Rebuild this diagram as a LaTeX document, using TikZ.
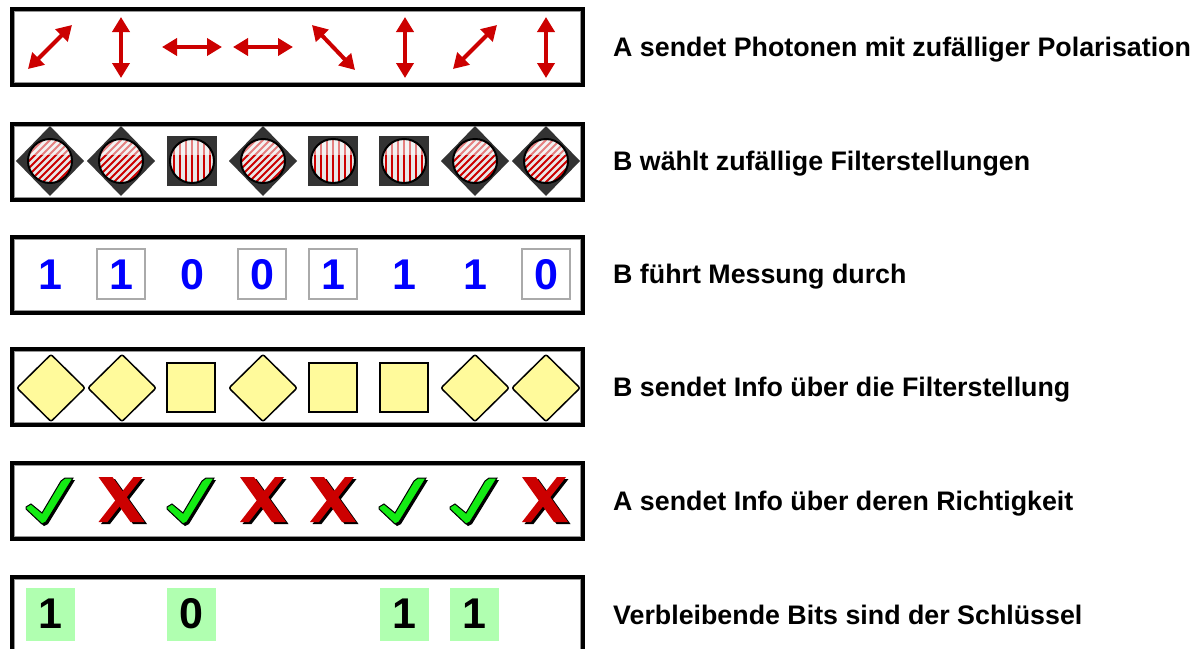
\documentclass[tikz,border=0pt]{standalone}
\usepackage{fontspec}
\setmainfont{Liberation Sans}
\usetikzlibrary{arrows.meta}

\definecolor{polred}{RGB}{204,0,0}
\definecolor{filterdark}{RGB}{51,51,51}
\definecolor{discgray}{RGB}{232,232,232}
\definecolor{bitblue}{RGB}{0,0,255}
\definecolor{infoyellow}{RGB}{255,250,155}
\definecolor{okgreen}{RGB}{20,235,20}
\definecolor{keygreen}{RGB}{176,255,176}
\definecolor{framegray}{RGB}{150,150,150}
\definecolor{cellgray}{RGB}{170,170,170}

\tikzset{
  rowframe/.style={draw=black, line width=4pt},
  rowinner/.style={draw=framegray, line width=1.2pt},
  polarrow/.style={polred, line width=4pt,
    {Triangle[width=17pt,length=15pt]}-{Triangle[width=17pt,length=15pt]}},
  steplabel/.style={anchor=base west, inner sep=0pt,
    font=\bfseries\fontsize{26.8}{30}\selectfont},
  bitdigit/.style={anchor=base, inner sep=0pt,
    font=\bfseries\fontsize{43}{45}\selectfont},
  cellbox/.style={draw=cellgray, line width=1.5pt},
  keycell/.style={fill=keygreen},
  hatchline/.style={polred, line width=2pt},
  discrim/.style={draw=black, line width=2pt},
  % dark filter mounts
  pics/filterdiamond/.style={code={
    \fill[filterdark] (0,-35) -- (34,0) -- (0,35) -- (-34,0) -- cycle;
    \begin{scope}
      \clip (0,0) circle[radius=22];
      \fill[discgray] (-23,-23) rectangle (23,23);
      \foreach \k in {-8,...,8}
        \draw[hatchline] ({7*\k-30},30) -- ({7*\k+30},-30);
      \fill[white,opacity=.5] (-23,-23) rectangle (23,-6);
    \end{scope}
    \draw[discrim] (0,0) circle[radius=22];
  }},
  pics/filtersquare/.style={code={
    \fill[filterdark] (-25,-25) rectangle (25,25);
    \begin{scope}
      \clip (0,0) circle[radius=22];
      \fill[discgray] (-23,-23) rectangle (23,23);
      \foreach \k in {-4,...,4}
        \draw[hatchline] ({6*\k},-23) -- ({6*\k},23);
      \fill[white,opacity=.5] (-23,-23) rectangle (23,-6);
    \end{scope}
    \draw[discrim] (0,0) circle[radius=22];
  }},
  % yellow info tiles
  pics/infodiamond/.style={code={
    \filldraw[fill=infoyellow, draw=black, line width=1.5pt, rounded corners=2pt]
      (0,-33.5) -- (34,0) -- (0,33.5) -- (-34,0) -- cycle;
  }},
  pics/infosquare/.style={code={
    \filldraw[fill=infoyellow, draw=black, line width=1.5pt]
      (-24,-24.5) rectangle (24,24.5);
  }},
  % green tick
  pics/checkmark/.style={code={
    \begin{scope}[shift={(2,2)}]
      \fill[black] (-24,6) -- (-19,3) -- (-8,12) -- (11,-20) -- (15,-23) -- (23,-23)
        -- (-4,21) -- (-8,23) -- (-24,8) -- cycle;
    \end{scope}
    \filldraw[fill=okgreen, draw=black, line width=1pt]
      (-24,6) -- (-19,3) -- (-8,12) -- (11,-20) -- (15,-23) -- (23,-23)
        -- (-4,21) -- (-8,23) -- (-24,8) -- cycle;
  }},
  % red cross
  pics/crossmark/.style={code={
    \begin{scope}[shift={(2.5,2)}]
      \fill[black] (-23,-23) -- (-9,-23) -- (23,22) -- (9,22) -- cycle;
      \fill[black] (12,-23) -- (21,-23) -- (-14,22) -- (-23,22) -- cycle;
    \end{scope}
    \fill[polred] (-23,-23) -- (-9,-23) -- (23,22) -- (9,22) -- cycle;
    \fill[polred] (12,-23) -- (21,-23) -- (-14,22) -- (-23,22) -- cycle;
  }},
}

\begin{document}
\begin{tikzpicture}[x=1pt,y=-1pt]
  \clip (0,0) rectangle (1196,648);
  \fill[white] (0,0) rectangle (1196,648);

  % frames of the six rows
  \foreach \t in {7,122,235,347,461,575} {
    \draw[rowframe] (12,\t+2) rectangle (583,\t+78);
    \draw[rowinner] (14.6,\t+4.6) rectangle (580.4,\t+75.4);
  }

  % row 1: polarisation of the photons
  \draw[polarrow] (28,69) -- (72,25);
  \draw[polarrow] (121,17) -- (121,78);
  \draw[polarrow] (162,47) -- (222,47);
  \draw[polarrow] (233,47) -- (293,47);
  \draw[polarrow] (312,25) -- (355,70);
  \draw[polarrow] (405,17) -- (405,78);
  \draw[polarrow] (453,69) -- (497,25);
  \draw[polarrow] (546,17) -- (546,78);

  % row 2: filter settings
  \pic at (50,161) {filterdiamond};
  \pic at (121,161) {filterdiamond};
  \pic at (192,161) {filtersquare};
  \pic at (263,161) {filterdiamond};
  \pic at (333,161) {filtersquare};
  \pic at (404,161) {filtersquare};
  \pic at (475,161) {filterdiamond};
  \pic at (546,161) {filterdiamond};

  % row 3: measured bits
  \draw[cellbox] (97,249) rectangle (145,299);
  \draw[cellbox] (238,249) rectangle (286,299);
  \draw[cellbox] (309,249) rectangle (357,299);
  \draw[cellbox] (522,249) rectangle (570,299);
  \node[bitdigit, bitblue] (m1) at (50,289) {1};
  \node[bitdigit, bitblue] (m2) at (121,289) {1};
  \node[bitdigit, bitblue] (m3) at (192,289) {0};
  \node[bitdigit, bitblue] (m4) at (262,289) {0};
  \node[bitdigit, bitblue] (m5) at (333,289) {1};
  \node[bitdigit, bitblue] (m6) at (404,289) {1};
  \node[bitdigit, bitblue] (m7) at (475,289) {1};
  \node[bitdigit, bitblue] (m8) at (546,289) {0};

  % row 4: announced filter settings
  \pic at (51,388) {infodiamond};
  \pic at (122,388) {infodiamond};
  \pic at (191,387.5) {infosquare};
  \pic at (263,388) {infodiamond};
  \pic at (333,387.5) {infosquare};
  \pic at (404,387.5) {infosquare};
  \pic at (475,388) {infodiamond};
  \pic at (546,388) {infodiamond};

  % row 5: correct / wrong
  \pic at (50,501) {checkmark};
  \pic at (121.5,500) {crossmark};
  \pic at (191,501) {checkmark};
  \pic at (263,500) {crossmark};
  \pic at (333,500) {crossmark};
  \pic at (403,501) {checkmark};
  \pic at (474,501) {checkmark};
  \pic at (545,500) {crossmark};

  % row 6: key bits
  \fill[keycell] (26,588) rectangle (75,641);
  \fill[keycell] (167,588) rectangle (216,641);
  \fill[keycell] (380,588) rectangle (429,641);
  \fill[keycell] (450,588) rectangle (499,641);
  \node[bitdigit] (k1) at (50.5,628) {1};
  \node[bitdigit] (k2) at (191.5,628) {0};
  \node[bitdigit] (k3) at (404.5,628) {1};
  \node[bitdigit] (k4) at (474.5,628) {1};

  % step descriptions
  \node[steplabel] (lab1) at (613,56.6) {A sendet Photonen mit zufälliger Polarisation};
  \node[steplabel] (lab2) at (613,170.6) {B wählt zufällige Filterstellungen};
  \node[steplabel] (lab3) at (613,283.6) {B führt Messung durch};
  \node[steplabel] (lab4) at (613,396.6) {B sendet Info über die Filterstellung};
  \node[steplabel] (lab5) at (613,510.6) {A sendet Info über deren Richtigkeit};
  \node[steplabel] (lab6) at (613,624.6) {Verbleibende Bits sind der Schlüssel};
\end{tikzpicture}
\end{document}
